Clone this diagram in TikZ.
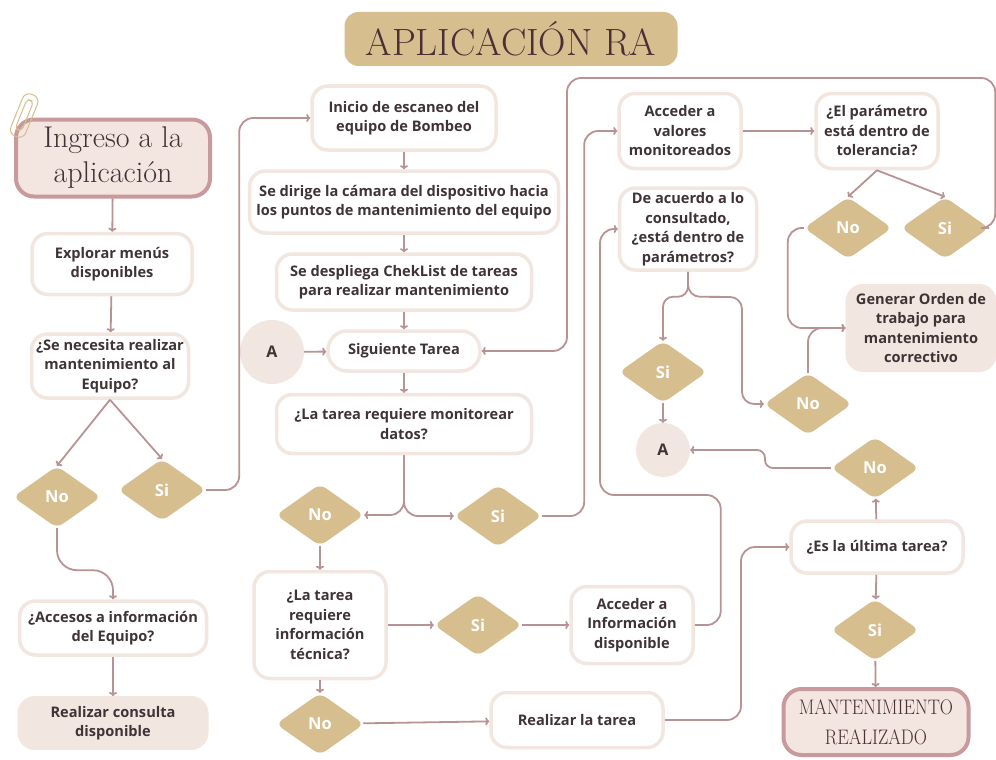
\documentclass[tikz,border=0pt]{standalone}
\usepackage{fontspec}
\setsansfont{Open Sans}
\usetikzlibrary{shapes.geometric,arrows.meta}
\definecolor{conn}{HTML}{B99295}
\definecolor{gold}{HTML}{D6BE8F}
\definecolor{boxb}{HTML}{F1E7E0}
\definecolor{beige}{HTML}{F2E6E0}
\definecolor{rosebord}{HTML}{C99A9C}
\definecolor{pinkfill}{HTML}{F3E5DF}
\definecolor{txt}{HTML}{3F3336}
\definecolor{titletxt}{HTML}{4A3034}
\begin{document}
\begin{tikzpicture}[x=1pt,y=-1pt,
  body/.style={font=\sffamily\bfseries\fontsize{14.6}{19.5}\selectfont, text=txt, align=center},
  box/.style={body, draw=boxb, line width=3.5pt, fill=white, rounded corners=16pt, inner sep=1pt},
  fbox/.style={body, draw=beige, line width=3pt, fill=beige, rounded corners=16pt, inner sep=1pt},
  dia/.style={diamond, fill=gold, rounded corners=7pt, minimum width=88pt, minimum height=62pt, inner sep=0pt,
    font=\sffamily\bfseries\fontsize{16.5}{18}\selectfont, text=white},
  circ/.style={circle, fill=beige, inner sep=0pt, font=\sffamily\bfseries\fontsize{16}{18}\selectfont, text=txt},
  conn/.style={draw=conn, line width=1.8pt, rounded corners=14pt, -{To[length=4pt,width=8pt]}},
  titlebox/.style={fill=gold, rounded corners=14pt, minimum width=333pt, minimum height=54pt, text=titletxt,
    font=\fontsize{38}{42}\selectfont},
  startbox/.style={draw=rosebord, line width=4pt, fill=pinkfill, rounded corners=18pt, align=center, text=txt,
    minimum width=194pt, minimum height=77pt, font=\fontsize{30}{35}\selectfont, inner sep=1pt},
  endbox/.style={draw=rosebord, line width=4pt, fill=pinkfill, rounded corners=18pt, align=center, text=titletxt,
    font=\fontsize{21}{30}\selectfont, inner sep=1pt}
]
\useasboundingbox (0,0) rectangle (996,760);
\fill[white] (0,0) rectangle (996,760);

% title
\node[titlebox] (tit) at (511,39) {APLICACIÓN RA};

% left column
\node[startbox] (ing) at (113,158) {Ingreso a la\\aplicación};
% paperclip (on top of the start box)
\begin{scope}[shift={(24,116)}, rotate=-22]
  \draw[gold, line width=1pt, rounded corners=7pt] (-8,-23) rectangle (8,22);
  \draw[gold, line width=1pt, rounded corners=4pt] (-3.5,-17) rectangle (3.5,15);
\end{scope}
\node[box, minimum width=160pt, minimum height=61pt] (expl) at (112,264) {Explorar menús\\disponibles};
\node[box, minimum width=157pt, minimum height=64pt] (senec) at (110,366) {¿Se necesita realizar\\mantenimiento al\\Equipo?};
\node[dia] (no1) at (57,497) {No};
\node[dia] (si1) at (162,490) {Si};
\node[box, minimum width=187pt, minimum height=54pt] (acc) at (113,628) {¿Accesos a información\\del Equipo?};
\node[fbox, minimum width=188pt, minimum height=51pt] (cons) at (113,723) {Realizar consulta\\disponible};

% middle column
\node[box, minimum width=184pt, minimum height=64pt] (ini) at (404,118) {Inicio de escaneo del\\equipo de Bombeo};
\node[box, minimum width=309pt, minimum height=62pt] (dir) at (404,202) {Se dirige la cámara del dispositivo hacia\\los puntos de mantenimiento del equipo};
\node[box, minimum width=255pt, minimum height=56pt] (desp) at (404,282) {Se despliega ChekList de tareas\\para realizar mantenimiento};
\node[circ, minimum size=64pt] (a1) at (272,352) {A};
\node[box, minimum width=152pt, minimum height=40pt, rounded corners=19pt] (sig) at (404,351) {Siguiente Tarea};
\node[box, minimum width=255pt, minimum height=59pt] (mon) at (404,424) {¿La tarea requiere monitorear\\datos?};
\node[dia] (no2) at (320,515) {No};
\node[dia] (si2) at (498,516) {Si};
\node[box, minimum width=132pt, minimum height=107pt] (tinf) at (320,625) {¿La tarea\\requiere\\información\\técnica?};
\node[dia] (si3) at (478,625) {Si};
\node[box, minimum width=122pt, minimum height=77pt] (ainf) at (632,625) {Acceder a\\Información\\disponible};
\node[dia] (no4) at (320,724) {No};
\node[box, minimum width=172pt, minimum height=55pt] (real) at (577,720) {Realizar la tarea};

% right part
\node[box, minimum width=122pt, minimum height=75pt] (aval) at (680,131) {Acceder a\\valores\\monitoreados};
\node[box, minimum width=137pt, minimum height=82pt] (deac) at (688,229) {De acuerdo a lo\\consultado,\\¿está dentro de\\parámetros?};
\node[box, minimum width=122pt, minimum height=75pt] (par) at (877,131) {¿El parámetro\\está dentro de\\tolerancia?};
\node[dia] (no5) at (848,228) {No};
\node[dia] (si5) at (945,228) {Si};
\node[fbox, minimum width=148pt, minimum height=85pt] (gen) at (921,328) {Generar Orden de\\trabajo para\\mantenimiento\\correctivo};
\node[dia] (si6) at (663,372) {Si};
\node[dia] (no7) at (808,404) {No};
\node[circ, minimum size=54pt] (a2) at (663,450) {A};
\node[dia] (no8) at (875,468) {No};
\node[box, minimum width=172pt, minimum height=52pt] (ult) at (877,547) {¿Es la última tarea?};
\node[dia] (si9) at (875,630) {Si};
\node[endbox, minimum width=185pt, minimum height=66pt] (mant) at (876,722) {\scalebox{0.87}[1]{MANTENIMIENTO}\\\scalebox{0.87}[1]{REALIZADO}};

% connectors left
\draw[conn] (ing) -- (expl);
\draw[conn] (expl) -- (senec);
\draw[conn] (senec.south) -- (no1.north);
\draw[conn] (senec.south) -- (si1.north);
\draw[conn] (si1.east) -- ++(33,0) |- (ini.west);
\draw[conn, rounded corners=20pt] (no1.south) -- ++(0,42) -| (acc.north);
\draw[conn] (acc) -- (cons);

% middle
\draw[conn] (ini) -- (dir);
\draw[conn] (dir) -- (desp);
\draw[conn] (desp) -- (sig);
\draw[conn] (a1) -- (sig);
\draw[conn] (sig) -- (mon);
\draw[conn] (mon.south) |- (no2.east);
\draw[conn] (mon.south) |- (si2.west);
\draw[conn] (si2.east) -- ++(42,0) |- (aval.west);
\draw[conn] (no2) -- (tinf);
\draw[conn] (tinf) -- (si3);
\draw[conn] (si3) -- (ainf);
\draw[conn] (tinf) -- (no4);
\draw[conn] (no4) -- (real);
\draw[conn] (ainf.east) -- ++(26,0) |- (600,495) |- (deac.west);

% big loop
\draw[conn] (si5.east) -- ++(6,0) |- (567,78) |- (sig.east);

% right
\draw[conn] (aval) -- (par);
\draw[conn] (par.south) -- (no5.north);
\draw[conn] (par.south) -- (si5.north);
\draw[conn] (no5.west) -- ++(-16,0) |- (gen.west);
\draw[conn] (no7.north) |- (gen.west);
\draw[conn, rounded corners=10pt] (deac.south) -- ++(0,25) -| (si6.north);
\draw[conn, rounded corners=12pt] (deac.south) -- ++(0,25) -- (742,297) |- (no7.west);
\draw[conn] (si6) -- (a2);
\draw[conn, rounded corners=8pt] (no8.west) -- (765,468) |- (a2.east);
\draw[conn] (ult) -- (no8);
\draw[conn] (ult) -- (si9);
\draw[conn] (si9) -- (mant);
\draw[conn] (real.east) -- (741,720) |- (ult.west);
\end{tikzpicture}
\end{document}
